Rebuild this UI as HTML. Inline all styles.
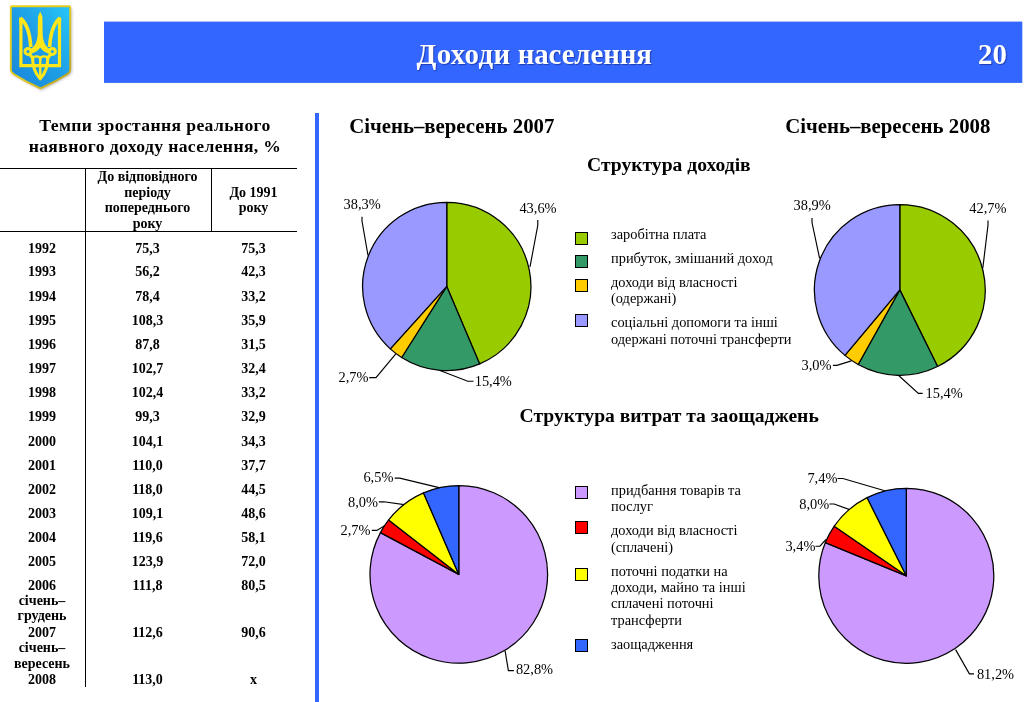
<!DOCTYPE html>
<html lang="uk">
<head>
<meta charset="utf-8">
<title>Доходи населення</title>
<style>
html,body{margin:0;padding:0;background:#fff;}
body{width:1024px;height:702px;position:relative;overflow:hidden;font-family:"Liberation Serif","DejaVu Serif",serif;color:#000;}
.hdr{position:absolute;left:104px;top:21px;width:920px;height:62px;}
.hdr .t{position:absolute;color:#fff;font-weight:bold;font-size:28.9px;line-height:34px;text-shadow:1px 1px 1px rgba(0,0,60,.4);white-space:nowrap;}
.vbar{position:absolute;left:315px;top:113px;width:4px;height:589px;background:#3366ff;}
.ln{position:absolute;background:#000;}
.tt{position:absolute;left:0;width:310px;text-align:center;font-weight:bold;font-size:17.6px;letter-spacing:.38px;white-space:nowrap;}
.c{position:absolute;text-align:center;font-weight:bold;font-size:14px;line-height:16px;white-space:nowrap;}
.c1{left:0;width:84px;}
.c2{left:85px;width:125px;}
.c3{left:211px;width:85px;}
.lg{position:absolute;font-size:14.4px;line-height:16px;white-space:nowrap;}
.h1{position:absolute;font-weight:bold;font-size:20.8px;line-height:24px;white-space:nowrap;}
.h2{position:absolute;font-weight:bold;font-size:19.6px;line-height:24px;white-space:nowrap;}
svg{position:absolute;left:0;top:0;}
svg text{font-family:"Liberation Serif","DejaVu Serif",serif;font-size:14.4px;fill:#000;}
</style>
</head>
<body>

<svg width="104" height="100" viewBox="0 0 104 100">
<defs>
<linearGradient id="shg" x1="0" y1="1" x2="1" y2="0">
<stop offset="0" stop-color="#1a86d8"/><stop offset=".5" stop-color="#1d9de6"/><stop offset="1" stop-color="#27c6f7"/>
</linearGradient>
<linearGradient id="brd" x1="0" y1="0" x2="1" y2="1"><stop offset="0" stop-color="#f0d51c"/><stop offset=".55" stop-color="#e2c61e"/><stop offset="1" stop-color="#b7a024"/></linearGradient>
<filter id="blur" x="-20%" y="-20%" width="140%" height="140%"><feGaussianBlur stdDeviation="1.7"/></filter>
</defs>
<path d="M11.5,6.5 H69.5 Q70.5,6.5 70.5,7.5 V70 Q70.5,73 66,75 L40.5,89 L15,75 Q10.5,73 10.5,70 V7.5 Q10.5,6.5 11.5,6.5 Z" fill="#8c8c8c" opacity=".6" filter="url(#blur)" transform="translate(1.2,1.6)"/>
<path d="M11.8,6.3 H69.2 Q70.2,6.3 70.2,7.3 V69 Q70.2,72.6 66.6,74.6 Q54,82.6 40.5,88.3 Q27,82.6 14.4,74.6 Q10.8,72.6 10.8,69 V7.3 Q10.8,6.3 11.8,6.3 Z" fill="url(#shg)" stroke="url(#brd)" stroke-width="1.9"/>
<g fill="none" stroke="#ffe61a" stroke-linejoin="miter" stroke-linecap="butt">
<path d="M20.9,19.5 V65.7 H59.5 V19.5" stroke-width="3.2"/>
<path d="M20.3,18 C26.5,23 29.8,31 30.8,47" stroke-width="3.6"/>
<path d="M60.1,18 C53.9,23 50.6,31 49.6,47" stroke-width="3.6"/>
<circle cx="28" cy="51.4" r="3" stroke-width="3"/>
<circle cx="52.4" cy="51.4" r="3" stroke-width="3"/>
<path d="M29.4,54 L32.8,58" stroke-width="3.2"/>
<path d="M51,54 L47.6,58" stroke-width="3.2"/>
<path d="M32.5,57 C32.6,66.5 35,73.5 40.2,78.6 C45.4,73.5 47.8,66.5 47.9,57" stroke-width="3.1"/>
<path d="M40.2,56.5 V78.5" stroke-width="2.5"/>
<path d="M32.7,59.5 C32.7,55.2 40.2,55.2 40.2,59.5 C40.2,55.2 47.7,55.2 47.7,59.5" stroke-width="2.2"/>
</g>
<path d="M40.2,11.6 L42.4,16.5 L42.7,35 C43.3,42.5 46,47 50.4,49.6 L48.6,53.6 C45,52.6 42,50.6 40.2,47.6 C38.4,50.6 35.4,52.6 31.8,53.6 L30,49.6 C34.4,47 37.1,42.5 37.7,35 L38,16.5 Z" fill="#ffe61a"/>
<path d="M19.3,16.8 L24.2,22.5 L19.3,23 Z M61.1,16.8 L56.2,22.5 L61.1,23 Z" fill="#ffe61a"/>
</svg>

<svg width="1024" height="100" viewBox="0 0 1024 100"><rect x="104" y="21.6" width="918.3" height="61.3" fill="#3366ff"/></svg>
<div class="hdr">
<div class="t" style="left:312.4px;top:16.0px"><span style="letter-spacing:.4px">Доходи</span><span style="letter-spacing:-.12px"> населення</span></div>
<div class="t" style="left:874.0px;top:16.0px">20</div>
</div>
<div class="vbar"></div>
<div class="tt" style="top:114.7px;line-height:20px">Темпи зростання реального</div>
<div class="tt" style="top:136.1px;line-height:20px">наявного доходу населення, %</div>
<div class="ln" style="left:0;top:168px;width:297px;height:1px"></div>
<div class="ln" style="left:0;top:231px;width:297px;height:1px"></div>
<div class="ln" style="left:85px;top:168px;width:1px;height:519px"></div>
<div class="ln" style="left:211px;top:168px;width:1px;height:64px"></div>
<div class="c c2" style="top:168.9px">До відповідного</div>
<div class="c c2" style="top:184.8px">періоду</div>
<div class="c c2" style="top:199.5px">попереднього</div>
<div class="c c2" style="top:216.1px">року</div>
<div class="c c3" style="top:184.8px">До 1991</div>
<div class="c c3" style="top:199.5px">року</div>
<div class="c c1" style="top:240.8px">1992</div>
<div class="c c2" style="top:240.8px">75,3</div>
<div class="c c3" style="top:240.8px">75,3</div>
<div class="c c1" style="top:263.8px">1993</div>
<div class="c c2" style="top:263.8px">56,2</div>
<div class="c c3" style="top:263.8px">42,3</div>
<div class="c c1" style="top:289.1px">1994</div>
<div class="c c2" style="top:289.1px">78,4</div>
<div class="c c3" style="top:289.1px">33,2</div>
<div class="c c1" style="top:313.1px">1995</div>
<div class="c c2" style="top:313.1px">108,3</div>
<div class="c c3" style="top:313.1px">35,9</div>
<div class="c c1" style="top:337.1px">1996</div>
<div class="c c2" style="top:337.1px">87,8</div>
<div class="c c3" style="top:337.1px">31,5</div>
<div class="c c1" style="top:361.0px">1997</div>
<div class="c c2" style="top:361.0px">102,7</div>
<div class="c c3" style="top:361.0px">32,4</div>
<div class="c c1" style="top:385.0px">1998</div>
<div class="c c2" style="top:385.0px">102,4</div>
<div class="c c3" style="top:385.0px">33,2</div>
<div class="c c1" style="top:408.9px">1999</div>
<div class="c c2" style="top:408.9px">99,3</div>
<div class="c c3" style="top:408.9px">32,9</div>
<div class="c c1" style="top:433.5px">2000</div>
<div class="c c2" style="top:433.5px">104,1</div>
<div class="c c3" style="top:433.5px">34,3</div>
<div class="c c1" style="top:457.5px">2001</div>
<div class="c c2" style="top:457.5px">110,0</div>
<div class="c c3" style="top:457.5px">37,7</div>
<div class="c c1" style="top:481.8px">2002</div>
<div class="c c2" style="top:481.8px">118,0</div>
<div class="c c3" style="top:481.8px">44,5</div>
<div class="c c1" style="top:506.4px">2003</div>
<div class="c c2" style="top:506.4px">109,1</div>
<div class="c c3" style="top:506.4px">48,6</div>
<div class="c c1" style="top:530.3px">2004</div>
<div class="c c2" style="top:530.3px">119,6</div>
<div class="c c3" style="top:530.3px">58,1</div>
<div class="c c1" style="top:554.3px">2005</div>
<div class="c c2" style="top:554.3px">123,9</div>
<div class="c c3" style="top:554.3px">72,0</div>
<div class="c c1" style="top:578.1px">2006</div>
<div class="c c2" style="top:578.1px">111,8</div>
<div class="c c3" style="top:578.1px">80,5</div>
<div class="c c1" style="top:592.7px">січень–</div>
<div class="c c1" style="top:608.0px">грудень</div>
<div class="c c1" style="top:625.2px">2007</div>
<div class="c c2" style="top:625.2px">112,6</div>
<div class="c c3" style="top:625.2px">90,6</div>
<div class="c c1" style="top:640.2px">січень–</div>
<div class="c c1" style="top:656.1px">вересень</div>
<div class="c c1" style="top:671.7px">2008</div>
<div class="c c2" style="top:671.7px">113,0</div>
<div class="c c3" style="top:671.7px">х</div>
<div class="h1" style="left:349.2px;top:114.4px">Січень–вересень 2007</div>
<div class="h1" style="left:785.2px;top:114.4px">Січень–вересень 2008</div>
<div class="h2" style="left:587px;top:153.0px">Структура доходів</div>
<div class="h2" style="left:519.5px;top:404.2px">Структура витрат та заощаджень</div>
<div class="lg" style="left:611px;top:226.2px">заробітна плата</div>
<div class="lg" style="left:611px;top:249.8px">прибуток, змішаний доход</div>
<div class="lg" style="left:611px;top:274.0px">доходи від власності</div>
<div class="lg" style="left:611px;top:289.8px">(одержані)</div>
<div class="lg" style="left:611px;top:314.2px">соціальні допомоги та інші</div>
<div class="lg" style="left:611px;top:330.6px">одержані поточні трансферти</div>
<div class="lg" style="left:611px;top:481.9px">придбання товарів та</div>
<div class="lg" style="left:611px;top:497.9px">послуг</div>
<div class="lg" style="left:611px;top:522.1px">доходи від власності</div>
<div class="lg" style="left:611px;top:538.9px">(сплачені)</div>
<div class="lg" style="left:611px;top:562.5px">поточні податки на</div>
<div class="lg" style="left:611px;top:578.8px">доходи, майно та інші</div>
<div class="lg" style="left:611px;top:595.0px">сплачені поточні</div>
<div class="lg" style="left:611px;top:612.4px">трансферти</div>
<div class="lg" style="left:611px;top:635.8px">заощадження</div>
<svg width="1024" height="702" viewBox="0 0 1024 702">
<g stroke="#000" stroke-width="1.25" stroke-linejoin="round">
<path d="M446.75,286.45 L446.75,202.30 A84.15,84.15 0 0 1 479.68,363.89 Z" fill="#99cc00"/>
<path d="M446.75,286.45 L479.68,363.89 A84.15,84.15 0 0 1 401.66,357.50 Z" fill="#339966"/>
<path d="M446.75,286.45 L401.66,357.50 A84.15,84.15 0 0 1 390.31,348.87 Z" fill="#ffcc00"/>
<path d="M446.75,286.45 L390.31,348.87 A84.15,84.15 0 0 1 446.75,202.30 Z" fill="#9999ff"/>
<path d="M899.80,289.90 L899.80,204.50 A85.40,85.40 0 0 1 937.61,366.47 Z" fill="#99cc00"/>
<path d="M899.80,289.90 L937.61,366.47 A85.40,85.40 0 0 1 858.19,364.48 Z" fill="#339966"/>
<path d="M899.80,289.90 L858.19,364.48 A85.40,85.40 0 0 1 844.95,355.36 Z" fill="#ffcc00"/>
<path d="M899.80,289.90 L844.95,355.36 A85.40,85.40 0 0 1 899.80,204.50 Z" fill="#9999ff"/>
<path d="M458.80,574.40 L458.80,485.60 A88.80,88.80 0 1 1 380.45,532.60 Z" fill="#cc99ff"/>
<path d="M458.80,574.40 L380.45,532.60 A88.80,88.80 0 0 1 388.63,519.97 Z" fill="#ff0000"/>
<path d="M458.80,574.40 L388.63,519.97 A88.80,88.80 0 0 1 423.53,492.90 Z" fill="#ffff00"/>
<path d="M458.80,574.40 L423.53,492.90 A88.80,88.80 0 0 1 458.80,485.60 Z" fill="#3366ff"/>
<path d="M906.30,575.80 L906.30,488.30 A87.50,87.50 0 1 1 825.36,542.57 Z" fill="#cc99ff"/>
<path d="M906.30,575.80 L825.36,542.57 A87.50,87.50 0 0 1 834.24,526.16 Z" fill="#ff0000"/>
<path d="M906.30,575.80 L834.24,526.16 A87.50,87.50 0 0 1 867.07,497.59 Z" fill="#ffff00"/>
<path d="M906.30,575.80 L867.07,497.59 A87.50,87.50 0 0 1 906.30,488.30 Z" fill="#3366ff"/>
</g>
<g stroke="#000" stroke-width="1">
<rect x="575.5" y="232.5" width="12" height="12" fill="#99cc00"/>
<rect x="575.5" y="255.5" width="12" height="12" fill="#339966"/>
<rect x="575.5" y="279.5" width="12" height="12" fill="#ffcc00"/>
<rect x="575.5" y="314.5" width="12" height="12" fill="#9999ff"/>
<rect x="575.5" y="486.5" width="12" height="12" fill="#cc99ff"/>
<rect x="575.5" y="521.5" width="12" height="12" fill="#ff0000"/>
<rect x="575.5" y="568.5" width="12" height="12" fill="#ffff00"/>
<rect x="575.5" y="639.5" width="12" height="12" fill="#3366ff"/>
</g>
<g fill="none" stroke="#000" stroke-width="1.15">
<path d="M537.8,220.1 V225.3 L530,266.9"/>
<path d="M362,216.8 V221 L368,255.5"/>
<path d="M369.2,377.6 H376 L395.8,353.8"/>
<path d="M439.9,370.5 L467.8,381.2 H473.5"/>
<path d="M988,220.5 V225 L982.8,268.2"/>
<path d="M812,217.9 V222.5 L819.6,258.4"/>
<path d="M832.9,365.4 H836.9 L851.3,360.9"/>
<path d="M898.9,375.7 L918.4,393.4 H922.7"/>
<path d="M394.7,478.1 H399.7 L439.1,487.6"/>
<path d="M378.8,501.8 H383.9 L404.2,504.6"/>
<path d="M371.8,530.4 H376.9 L384.5,525.7"/>
<path d="M505.1,650.9 L508.4,670.6 H513.9"/>
<path d="M837.5,478.5 H842.9 L884.8,490.7"/>
<path d="M829.4,504 H834.1 L849,509.4"/>
<path d="M815.4,546.2 H819.9 L826,539.4"/>
<path d="M955.6,649.6 L969.4,673.8 H974"/>
</g>
<text x="343.6" y="208.8">38,3%</text>
<text x="519.4" y="212.8">43,6%</text>
<text x="338.5" y="382.0">2,7%</text>
<text x="474.7" y="385.9">15,4%</text>
<text x="793.5" y="209.9">38,9%</text>
<text x="969.3" y="212.8">42,7%</text>
<text x="801.5" y="369.7">3,0%</text>
<text x="925.6" y="397.7">15,4%</text>
<text x="363.4" y="482.4">6,5%</text>
<text x="348.0" y="506.6">8,0%</text>
<text x="340.5" y="534.8">2,7%</text>
<text x="515.9" y="674.4">82,8%</text>
<text x="807.4" y="483.3">7,4%</text>
<text x="799.3" y="508.6">8,0%</text>
<text x="785.4" y="551.4">3,4%</text>
<text x="976.9" y="678.8">81,2%</text>
</svg>
</body></html>
